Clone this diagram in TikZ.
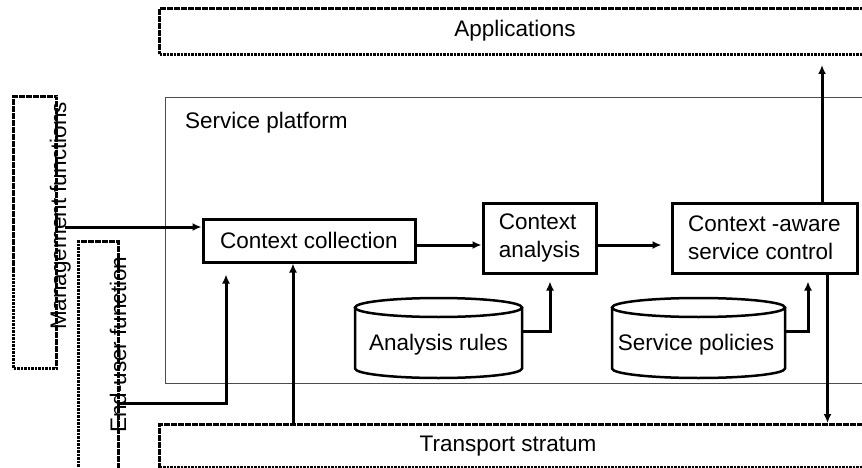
\documentclass[tikz,border=0pt]{standalone}
\usepackage{fontspec}
\setmainfont{Liberation Sans}
\usetikzlibrary{arrows.meta,calc}
\begin{document}
\begin{tikzpicture}[x=1pt,y=-1pt,
  every node/.style={font=\fontsize{22.5}{28}\selectfont},
  dbox/.style={draw, line width=3pt, dash pattern=on 2.6pt off 0.9pt, inner sep=0pt, anchor=north west},
  fbox/.style={draw, line width=3pt, inner sep=0pt},
  plat/.style={draw=black!70, line width=1.4pt, inner sep=0pt, anchor=north west},
  arr/.style={line width=3pt, -{Latex[length=9pt,width=8pt]}},
  cyl/.style={line width=2.5pt}
]
\useasboundingbox (0,0) rectangle (862,468);
% service platform
\node[plat, minimum width=710pt, minimum height=286pt] (plat) at (165,97) {};
\node[anchor=base west, inner sep=0pt] (platt) at (185,129) {Service platform};
% strata boxes
\node[dbox, minimum width=717pt, minimum height=46pt] (apps) at (158,7) {};
\node (appst) at (515,31) {Applications};
\node[dbox, minimum width=717pt, minimum height=43pt] (ts) at (158,423) {};
\node (tst) at (508,446) {Transport stratum};
% side functions
\node[dbox, minimum width=43pt, minimum height=272pt] (mf) at (12,95) {};
\node[rotate=90, anchor=base west, inner sep=0pt] (mft) at (66,330) {Management functions};
\node[dbox, minimum width=40pt, minimum height=240pt] (eu) at (77,240) {};
\node[rotate=90, anchor=base west, inner sep=0pt] (eut) at (126,433) {End-user function};
% main boxes
\node[fbox, minimum width=212pt, minimum height=43pt] (cc) at (309,240.5) {Context collection};
\node[fbox, minimum width=113pt, minimum height=70pt, align=left] (ca) at (539.5,238) {Context\\analysis};
\node[fbox, minimum width=185pt, minimum height=70pt, align=left] (csc) at (764.5,238) {Context -aware\\service control};
% cylinders
\draw[cyl] (438.5,307.5) ellipse [x radius=83.5pt, y radius=9.5pt];
\draw[cyl] (355,307.5) -- (355,368.5) arc[start angle=180, end angle=360, x radius=83.5pt, y radius=9.5pt] -- (522,307.5);
\node[anchor=base] (ar) at (438.5,350) {Analysis rules};
\coordinate (arR) at (522,331);
\draw[cyl] (698.5,307.5) ellipse [x radius=86.5pt, y radius=9.5pt];
\draw[cyl] (612,307.5) -- (612,368.5) arc[start angle=180, end angle=360, x radius=86.5pt, y radius=9.5pt] -- (785,307.5);
\node[anchor=base] (sp) at (696,350) {Service policies};
\coordinate (spR) at (785,331);
% connectors
\path (cc.west) ++(0,-13.5) coordinate (ccin);
\draw[arr] ([xshift=7pt]mf.east |- ccin) -- (ccin);
\draw[arr, shorten >=11pt] (eu.east |- 0,403) -| ([xshift=-83pt]cc.south);
\draw[arr] ([xshift=-16pt]cc.south |- ts.north) -- ([xshift=-16pt]cc.south);
\draw[arr] ([yshift=-4.5pt]cc.east) -- ([yshift=-4.5pt]cc.east -| ca.west);
\draw[arr, shorten >=9pt] ([yshift=-7pt]ca.east) -- ([yshift=-7pt]ca.east -| csc.west);
\draw[arr, shorten >=7pt] (arR) -| ([xshift=10.5pt]ca.south);
\draw[arr, shorten >=7pt] (spR) -| ([xshift=43.5pt]csc.south);
\draw[arr, shorten >=9pt] ([xshift=57.5pt]csc.north) -- ([xshift=57.5pt]csc.north |- apps.south);
\draw[arr] ([xshift=63pt]csc.south) -- ([xshift=63pt]csc.south |- ts.north);
\end{tikzpicture}
\end{document}
